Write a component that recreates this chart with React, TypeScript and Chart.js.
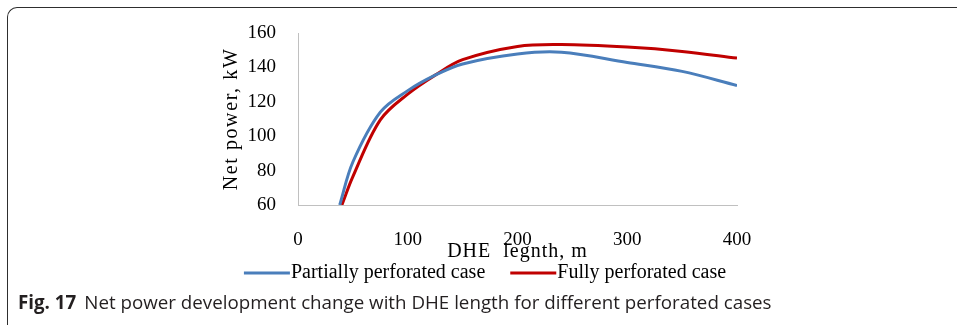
import React, { useEffect, useRef } from "react";
import { Chart, registerables } from "chart.js";

Chart.register(...registerables);

const partialX = [38, 50, 75, 100, 125, 150, 200, 240, 300, 350, 400];
const partialY = [60, 85, 114, 126.5, 135.5, 142, 147.8, 148.8, 142.9, 137.7, 129.5];
const fullX = [40, 50, 75, 100, 125, 150, 200, 240, 300, 350, 400];
const fullY = [60, 76.5, 109.5, 124.5, 135.5, 144.5, 152.2, 153.3, 151.8, 149.3, 145.4];
const seriesNames = ["Partially perforated case", "Fully perforated case"];
const xTitle = "DHE  legnth, m";
const yTitle = "Net power, kW";
const caption = "Net power development change with DHE length for different perforated cases";

const SERIF = "'Liberation Serif', 'Times New Roman', serif";

function spaceTitle(s: any, spacing: string) {
  if (s.__wrapped) return;
  s.__wrapped = true;
  const orig = s.drawTitle.bind(s);
  s.drawTitle = () => {
    const ctx = s.ctx;
    ctx.save();
    (ctx as any).letterSpacing = spacing;
    orig();
    ctx.restore();
  };
}

export default function App() {
  const ref = useRef<HTMLCanvasElement | null>(null);

  useEffect(() => {
    if (!ref.current) return;
    const toPts = (xs: number[], ys: number[]) => xs.map((x, i) => ({ x, y: ys[i] }));
    const lineLegend = {
      id: "lineLegend",
      afterDraw(chart: any) {
        const ctx = chart.ctx;
        const dsets = chart.data.datasets;
        const lineLen = 46;
        const textGap = 1;
        const itemGap = 25;
        const y = 273;
        ctx.save();
        ctx.font = `20px ${SERIF}`;
        const widths = dsets.map((d: any) => lineLen + textGap + ctx.measureText(d.label).width);
        const total = widths.reduce((a: number, b: number) => a + b, 0) + itemGap * (dsets.length - 1);
        let x = 485 - total / 2;
        dsets.forEach((d: any, i: number) => {
          ctx.strokeStyle = d.borderColor;
          ctx.lineWidth = 3;
          ctx.beginPath();
          ctx.moveTo(x, y);
          ctx.lineTo(x + lineLen, y);
          ctx.stroke();
          ctx.fillStyle = "#000";
          ctx.textBaseline = "middle";
          ctx.textAlign = "left";
          ctx.fillText(d.label, x + lineLen + textGap, y);
          x += widths[i] + itemGap;
        });
        ctx.restore();
      },
    };
    const chart = new Chart(ref.current, {
      type: "scatter",
      data: {
        datasets: [
          {
            label: seriesNames[0],
            data: toPts(partialX, partialY),
            showLine: true,
            borderColor: "#4a7ebb",
            backgroundColor: "#4a7ebb",
            borderWidth: 3,
            pointRadius: 0,
            tension: 0.35,
          },
          {
            label: seriesNames[1],
            data: toPts(fullX, fullY),
            showLine: true,
            borderColor: "#c00000",
            backgroundColor: "#c00000",
            borderWidth: 3,
            pointRadius: 0,
            tension: 0.35,
          },
        ],
      },
      options: {
        animation: false,
        responsive: false,
        maintainAspectRatio: false,
        layout: { padding: { left: 220, right: 220, top: 33, bottom: 26 } },
        plugins: {
          tooltip: { enabled: false },
          legend: { display: false },
        },
        scales: {
          x: {
            type: "linear",
            min: 0,
            max: 400,
            ticks: {
              stepSize: 100,
              color: "#000",
              padding: 16,
              font: { family: SERIF, size: 19 },
            },
            grid: { display: false },
            border: { display: true, color: "#c0c0c0", width: 1 },
            title: {
              display: true,
              text: xTitle,
              color: "#000",
              font: { family: SERIF, size: 20 },
              padding: { top: 0, bottom: 0 },
            },
            afterFit: (s: any) => {
              s.height = 59;
              spaceTitle(s, "1px");
            },
          },
          y: {
            type: "linear",
            min: 60,
            max: 160,
            ticks: {
              stepSize: 20,
              color: "#000",
              padding: 14,
              font: { family: SERIF, size: 19 },
            },
            grid: { display: false },
            border: { display: true, color: "#c0c0c0", width: 1 },
            title: {
              display: true,
              text: yTitle,
              color: "#000",
              font: { family: SERIF, size: 20 },
              padding: { top: 0, bottom: 0 },
            },
            afterFit: (s: any) => {
              s.width = 78;
              spaceTitle(s, "1.6px");
            },
          },
        },
      },
      plugins: [lineLegend],
    } as any);
    return () => chart.destroy();
  }, []);

  return (
    <div style={{ position: "absolute", left: 0, top: 0, width: 957, height: 325, overflow: "hidden", background: "#fff" }}>
      <div
        style={{
          position: "absolute",
          left: 7,
          top: 7,
          width: 980,
          height: 340,
          borderTop: "1.5px solid #2e2e2e",
          borderLeft: "1.5px solid #2e2e2e",
          borderTopLeftRadius: 10,
          borderBottomLeftRadius: 10,
          boxSizing: "border-box",
        }}
      />
      <canvas ref={ref} width={957} height={290} style={{ position: "absolute", left: 0, top: 0, width: 957, height: 290 }} />
      <div
        style={{
          position: "absolute",
          left: 18,
          top: 290,
          fontFamily: "'Open Sans', 'Noto Sans', sans-serif",
          fontSize: 18.75,
          color: "#231f20",
          whiteSpace: "nowrap",
          lineHeight: "24px",
        }}
      >
        <span style={{ fontWeight: 700 }}>Fig. 17</span>
        <span style={{ marginLeft: 8 }}>{caption}</span>
      </div>
    </div>
  );
}
